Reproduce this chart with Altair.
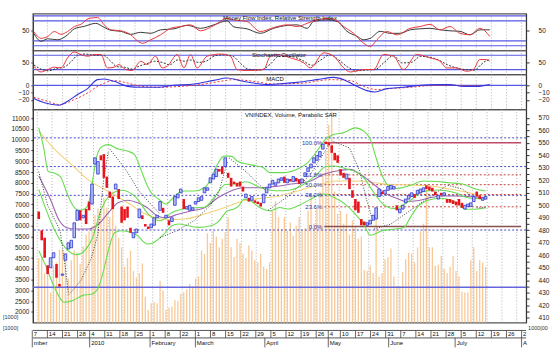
import altair as alt
import pandas as pd

FONT = "Liberation Sans"
W = 495
XS = alt.Scale(domain=[-0.3, 163.0], nice=False, zero=False)

# ---------------- trading calendar ----------------
holidays = ["2010-01-01", "2010-02-15", "2010-02-16", "2010-02-17", "2010-02-18",
            "2010-02-19", "2010-04-30", "2010-05-03"]
days = pd.bdate_range("2009-12-07", "2010-08-02").drop(pd.to_datetime(holidays))
month_names = {12: "mber", 1: "2010", 2: "February", 3: "March", 4: "April",
               5: "May", 6: "June", 7: "July", 8: "A"}

# ---------------- price candles (VNINDEX points) ----------------
opens = [495, 480, 474, 452, 450, 458, 453, 437, 444, 456,
         465, 466, 474, 488, 496, 490, 497, 503, 501, 533,
         525, 540, 541, 523, 511, 507, 513, 513, 499, 497,
         499, 482, 474, 478, 490, 492, 485, 483, 482, 484,
         490, 496, 498, 490, 488, 487, 500, 506, 510, 505,
         497, 496, 496, 501, 503, 504, 510, 512, 518, 521,
         523, 529, 531, 531, 526, 522, 519, 518, 519, 515,
         506, 506, 504, 504, 503, 502, 502, 510, 514, 517,
         516, 518, 520, 523, 518, 521, 519, 522, 521, 518,
         523, 527, 530, 534, 536, 539, 545, 551, 550, 548,
         542, 540, 529, 526, 521, 522, 512, 505, 503, 489,
         487, 484, 485, 488, 489, 507, 511, 509, 512, 513,
         513, 500, 494, 497, 502, 505, 507, 509, 509, 510,
         511, 516, 515, 514, 511, 505, 510, 508, 505, 505,
         504, 503, 505, 502, 497, 499, 499, 503, 511, 508,
         504, 505]
closes = [489, 472, 458, 445, 458, 462, 442, 435, 445, 461,
          470, 472, 486, 496, 488, 492, 485, 496, 517, 538,
          535, 536, 522, 514, 506, 497, 517, 505, 486, 488,
          490, 478, 478, 481, 497, 489, 483, 481, 485, 490,
          492, 503, 494, 492, 484, 490, 507, 509, 513, 497,
          499, 500, 498, 503, 506, 507, 514, 514, 522, 525,
          529, 527, 525, 538, 522, 515, 517, 515, 515, 511,
          509, 503, 507, 502, 501, 499, 509, 514, 517, 520,
          518, 521, 522, 518, 521, 519, 523, 519, 517, 521,
          526, 530, 533, 538, 540, 543, 549, 549, 548, 542,
          536, 534, 524, 522, 525, 513, 506, 496, 494, 484,
          484, 486, 488, 492, 498, 513, 509, 512, 515, 516,
          515, 496, 497, 500, 505, 508, 510, 506, 512, 513,
          514, 513, 512, 511, 508, 508, 508, 510, 502, 502,
          501, 500, 500, 498, 500, 501, 502, 507, 507, 505,
          506, 507]
# ---------------- volume (left-axis units) ----------------
volume = [4500, 4600, 3800, 4100, 2900, 4150, 4300, 4900, 4900, 4750,
          3550, 4400, 4850, 4750, 4250, 5050, 5600, 5750, 6000, 6500,
          6800, 6700, 7300, 6850, 6400, 7600, 6000, 5450, 5000, 4100,
          4500, 4850, 3900, 3600, 3800, 4250, 2700, 2100, 2400, 2450,
          2400, 3450, 3000, 2100, 2200, 2250, 2550, 2500, 2850, 2900,
          3050, 3300, 3200, 3550, 3650, 4850, 4700, 5650, 5200, 5770,
          5500, 5000, 5400, 5700, 6400, 5000, 4550, 5400, 5200, 4700,
          4500, 5100, 4850, 4400, 4300, 4700, 4100, 4000, 4300, 6700,
          7150, 6400, 5850, 6400, 5770, 6150, 5550, 6000, 6400, 5800,
          5900, 6700, 7450, 6100, 6850, 7600, 8450, 9450, 10700, 11300,
          7600, 6550, 6700, 6100, 6550, 5600, 6250, 6000, 5400, 5500,
          3950, 3900, 4150, 3800, 6400, 3650, 3800, 4450, 4550, 4950,
          3650, 3200, 3200, 3850, 4450, 4750, 4700, 4300, 5000, 5750,
          6100, 7800, 5000, 5000, 4150, 4200, 4600, 4000, 3800, 4100,
          4600, 3900, 3650, 2950, 2900, 2900, 4400, 5000, 3900, 4400,
          4300, 4100]

# ---------------- price-panel indicator lines ----------------
upper_i = [0, 1.6, 3.2, 5, 7.3, 9.5, 11.5, 13.5, 15.5, 17, 18, 19.7, 21.3, 23.5, 26.8, 30, 32.3,
           34.5, 36, 38, 40.5, 43, 45, 47.3, 49.4, 52.7, 56, 58.2, 60.4, 62.6, 65, 67, 70.3, 73.6,
           75.8, 78, 83, 87.5, 90.8, 94, 96.9, 99.6, 102.9, 107, 110, 112, 114, 116, 118, 121,
           125.6, 130, 134.4, 138.8, 143.2, 147.6, 151]
upper_v = [562, 547, 527, 526, 523, 510, 500, 496, 497, 503, 517, 540, 547, 548.6, 545, 543.4, 540.8,
           528.8, 519.5, 510, 505, 501, 505, 510, 511.5, 511.5, 514, 521, 532.8, 539.4, 539.4, 535.5,
           533, 531.5, 530.2, 526.2, 526.2, 529, 534, 543.4, 552.7, 556.7, 558, 562, 559, 553, 538,
           524, 516, 513.5, 516, 519.5, 519, 518, 517, 513, 511.5]
mid_i = [0, 5, 9, 13, 18, 21, 24, 28, 33, 37, 41, 45, 50, 56, 60, 63, 67, 70, 75, 80, 85, 90, 94,
         97, 100, 104, 107, 110, 112, 116, 120, 125, 130, 135, 141, 145, 151]
mid_v = [512.7, 482, 466, 460.5, 473, 496, 508, 512, 506, 493, 487.6, 494.3, 497.5, 498.5, 508.5,
         516.7, 517, 518.8, 514, 511.6, 512.3, 517.5, 524.7, 531, 531.5, 529, 527, 521.5, 514.5,
         501.8, 497.5, 503, 511, 512.3, 509.8, 506, 504.9]
low_i = [0, 2.6, 4.8, 7, 8.6, 11.4, 14.7, 18, 20.2, 21.9, 23.5, 25.7, 27.9, 31.2, 33.4, 36.7, 38.9,
         41.1, 42.3, 45, 47.3, 50.6, 54, 58.2, 60.4, 63.8, 66, 67.6, 69.3, 71.5, 74.7, 78, 81.4, 84,
         88, 92, 96, 100, 104, 107, 110, 112, 116, 120.5, 123.4, 125.6, 127.8, 131, 135.5, 141,
         144.3, 147.6, 151]
low_v = [463.6, 450.3, 437, 426.4, 422.4, 423.7, 427.7, 429, 434.4, 447.7, 463.6, 478.3, 479.6,
         478.3, 475.6, 469, 470.3, 474.3, 477, 483.6, 485, 483.6, 482.3, 483.6, 486.3, 495.6, 497,
         499.6, 504.9, 503.6, 498.2, 495.6, 498.2, 497, 500, 505, 509, 506, 500, 493, 484, 476,
         479.6, 481, 482.3, 490.3, 498.2, 503.6, 505.7, 502.2, 496.9, 496.9, 498.2]
purple_i = [0, 3.7, 7, 9.2, 12.5, 16.9, 20.2, 23.5, 26.8, 30.1, 33.4, 36.7, 40, 42.8, 47.3, 51.7, 56,
            60.5, 64.9, 69.2, 73.7, 78, 81.4, 85.3, 91.9, 96.3, 100.7, 105.1, 109.5, 113.9, 118.3,
            121.6, 124, 127.8, 132.2, 136.6, 141, 146.5, 151]
purple_v = [523.5, 506, 487.6, 482.3, 481, 481, 485, 494, 502, 504, 502, 498, 491.6, 490, 493, 495.6,
            498, 506, 511.5, 514, 514, 514.7, 515.5, 517, 519.5, 524.8, 527.5, 528.8, 523.5, 515.5,
            508, 505, 503, 503.6, 506, 507.5, 507.5, 506.8, 505.7]
yellow_i = [0, 5.4, 11, 16.4, 22, 26.3, 30.8, 35.1, 39.5, 44, 49.4, 56, 62.6, 69.2, 75.8, 81.4, 87.5,
            94.1, 100.7, 107.3, 113.9, 119, 125.6, 132.2, 138.8, 145.4, 151]
yellow_v = [559.4, 544.8, 532.8, 521, 513, 507.5, 501, 494, 490, 488.5, 489, 493, 498, 503.6, 505.7,
            507.5, 511.5, 516, 519.5, 519.5, 518, 516.5, 516.3, 515.5, 513, 510, 507]
sar_seg = ["A"] * 6 + ["B"] * 6 + ["C"] * 5 + ["D"] * 6 + ["E"] * 3 + ["F"] * 4 + ["G"] * 5 + ["H"] * 4 + ["I"] * 3 + ["J"] * 2
sar_i = [0, 3, 5.5, 7.2, 9, 10,
         10, 14.3, 17.8, 20, 22, 23.5,
         24, 29, 34, 39, 41,
         41, 47, 52.7, 58, 61, 63.8,
         64.3, 70, 76.9,
         77.5, 85.3, 91.9, 98.5,
         99.6, 105, 108.4, 110.6, 112.8,
         113.3, 119, 128, 137.7,
         138.2, 143.2, 147,
         148, 151]
sar_v = [527, 500, 488, 480, 450, 430,
         428, 440, 458, 477, 522, 543,
         545, 530, 511, 498, 493,
         474, 480, 488, 500, 512, 535,
         538, 527, 511,
         496, 509, 525, 550,
         551, 546, 527.5, 506, 488,
         481, 485, 500, 515.5,
         516, 513, 506,
         498, 498]
dotted_levels = [554, 531, 508, 480.2]
solid_level = [434.4]
fib_levels = [550, 524.4, 516.5, 508.6, 498.8, 483]
fib_labels = ["100.0%", "61.8%", "50.0%", "38.2%", "23.6%", "0.0%"]

# ---------------- oscillators ----------------
mfi_i = [0, 2.4, 4.6, 7.9, 11.2, 13.4, 16.7, 20.5, 23.3, 25.5, 28.8, 32.1, 35.4, 38.7, 42, 46.4,
         50.8, 55.2, 59.6, 64, 66.2, 70.6, 75, 79.4, 83.9, 87.2, 90.5, 92.7, 97, 100.4, 103.7, 107,
         109.2, 111.4, 114.7, 118, 121.3, 124.6, 127.9, 131.2, 134.5, 137.8, 141.1, 144.4, 147.7, 151]
mfi_v = [45, 29, 34, 32, 42, 54, 59, 65, 57, 51, 49, 43, 47, 45, 52, 54, 61, 55, 62, 70, 58, 54, 45,
         55, 61, 62, 55, 69, 72, 69, 49, 39, 32, 35, 49, 45, 45, 52, 54, 55, 52, 50, 49, 42, 52, 52]
rsi_i = [0, 2.4, 4.6, 6.8, 9, 11.2, 13.4, 15.6, 18.3, 21.1, 23.3, 25.5, 28.8, 32.1, 34.3, 36, 38.7,
         42, 45.3, 48.6, 51.9, 55.2, 59.6, 64, 66.2, 70.6, 75, 79.4, 83.9, 87.2, 90.5, 93.8, 97.1,
         99.8, 102.6, 105.9, 109.2, 111.4, 113.6, 116.9, 120.2, 124.6, 127.9, 131.2, 134.5, 137.8,
         141.1, 144.4, 147.7, 151]
rsi_v = [48.6, 35, 38.6, 48.6, 43, 48.6, 58.6, 63, 75, 76.6, 62, 52, 50, 42, 30, 25, 32, 42, 55,
         58.6, 62, 50, 60.6, 75, 72, 68.6, 48.6, 56.6, 62, 58.6, 65, 72, 75, 72, 58.6, 45, 25, 18.6,
         32, 48.6, 42, 55, 58.6, 63, 52, 58.6, 45, 42, 55, 38.6]
stk_i = [0, 2.4, 4.6, 6.8, 9, 11.2, 13.4, 15.6, 17.8, 20, 22.2, 24.4, 26.6, 28.2, 30.4, 32.6, 35.4,
         37.6, 40.3, 42.5, 44.2, 47.5, 49.7, 51.9, 54.1, 57.4, 61.8, 65.1, 67.3, 70.6, 76.1, 78.3,
         80.6, 85, 89.4, 91.6, 96, 99.3, 102.6, 104.8, 109.2, 112.5, 115.8, 119.1, 122.4, 126.8,
         131.2, 134.5, 136.7, 140, 143.3, 145.5, 147.7, 149.9, 151]
stk_v = [34, 10, 20, 30, 27, 69, 94, 83, 76, 83, 83, 27, 30, 41, 20, 16, 55, 41, 76, 27, 34, 83, 27,
         83, 27, 76, 85, 76, 20, 16, 20, 76, 83, 69, 48, 27, 90, 76, 27, 10, 20, 20, 83, 76, 20, 83,
         69, 55, 27, 27, 13, 20, 62, 62, 55]
std_i = [0, 2.4, 5, 7.5, 10, 12.5, 14.5, 17, 20, 23, 25.5, 27.5, 30, 32.5, 35, 37.5, 40, 42.5, 45,
         47.5, 50, 52, 54.5, 57, 60, 63, 66, 68.5, 71, 75, 78.5, 81, 85, 89, 92, 95, 98, 101, 104,
         107, 110, 113, 116, 119, 122, 125, 128, 131, 134, 137, 140, 143, 146, 148, 150, 151]
std_v = [40, 22, 15, 25, 30, 55, 80, 85, 80, 80, 55, 32, 30, 22, 35, 45, 55, 50, 40, 60, 55, 60, 50,
         55, 78, 82, 75, 45, 22, 18, 45, 75, 75, 58, 38, 60, 82, 60, 30, 15, 18, 20, 50, 78, 48, 50,
         75, 72, 60, 40, 27, 20, 18, 40, 58, 60]
macd_i = [0, 3.5, 8.4, 11.2, 14.5, 17.8, 21.1, 23.3, 26.6, 31, 35.4, 40.9, 46.4, 53, 59.6, 64, 68.4,
          72.8, 77.2, 80.6, 87.2, 93.8, 99.3, 102.6, 107, 110.3, 113, 116.9, 122.4, 127.9, 133.4,
          137.8, 142.2, 146.6, 151]
macd_v = [-18.2, -24, -27.4, -21.9, -12.7, -4.5, 7.8, 8.7, 5.5, -1.4, -2.7, -2.7, 0, 1.8, 6.8, 10,
          6.4, 3.2, 1, 1.8, 4.1, 7.8, 11, 7.8, -1.4, -7.3, -9.2, -4.5, -2.7, 0, 1, 1, -1.4, -1.4, 1]
sig_i = [0, 4.6, 8.4, 13.4, 17.8, 22.2, 26.6, 31, 35.4, 42, 48.6, 55.2, 61.8, 66.2, 72.8, 79.4, 89.4,
         98.2, 104.8, 109.2, 113.6, 118, 124.6, 131.2, 137.8, 144.4, 151]
sig_v = [-16.4, -21.9, -26.4, -19.6, -10.5, 1, 6.4, 3.2, -1.4, -2.7, -1.4, 1, 5.5, 7.8, 5.5, 1.8,
         3.2, 7.8, 6.4, -1.4, -5.9, -4.5, -2.7, -0.4, 0, -0.4, 0]

# ---------------- axis tick tables from the calendar ----------------
week_pos, week_txt, month_pos, month_txt = [], [], [], []
prev_w = prev_m = None
for k, d in enumerate(days):
    w = tuple(d.isocalendar())[:2]
    if w != prev_w:
        week_pos.append(k - 0.5)
        week_txt.append(str(d.day))
        prev_w = w
    if d.month != prev_m:
        month_pos.append(k - 0.5)
        month_txt.append(month_names[d.month])
        prev_m = d.month
week_df = pd.DataFrame({"i": week_pos, "t": week_txt})
month_df = pd.DataFrame({"i": month_pos, "t": month_txt})


def X(field="i"):
    return alt.X(f"{field}:Q", scale=XS, axis=None, title=None)


def vgrid():
    return alt.Chart(week_df).mark_rule(color="#a0a0a0", strokeDash=[1, 2], strokeWidth=0.8).encode(x=X())


def label(txt, x, y, size=6, color="#111", align="center"):
    return alt.Chart(pd.DataFrame({"t": [txt]})).mark_text(
        font=FONT, fontSize=size, color=color, align=align, baseline="middle"
    ).encode(x=alt.value(x), y=alt.value(y), text="t:N")


def sline(xs, ys, yfn, color, width=1.0, dash=None):
    df = pd.DataFrame({"i": xs, "v": ys})
    kw = dict(color=color, strokeWidth=width, interpolate="monotone")
    if dash:
        kw["strokeDash"] = dash
    return alt.Chart(df).mark_line(**kw).encode(x=X(), y=yfn("v"))


def left_axis(values, fmt="d"):
    return alt.Axis(orient="left", values=values, format=fmt, minExtent=32, maxExtent=32,
                    labelFontSize=6.5, tickSize=2, labelPadding=2)


def right_axis(values, fmt="d"):
    return alt.Axis(orient="right", values=values, format=fmt, minExtent=30, maxExtent=30,
                    labelFontSize=6.5, tickSize=3, labelPadding=9)


def panel(main, scale, rvalues, h):
    dummy = alt.Chart(pd.DataFrame({"v": rvalues})).mark_point(opacity=0).encode(
        y=alt.Y("v:Q", scale=scale, axis=right_axis(rvalues), title=None))
    return alt.layer(main, dummy).resolve_scale(y="independent").properties(width=W, height=h)


BLUE = "#5858e4"

# ---- panel 1: MFI / RSI ----
S1 = alt.Scale(domain=[10.6, 84.6], nice=False, zero=False)
A1 = left_axis([50])
Y1 = lambda f: alt.Y(f"{f}:Q", scale=S1, axis=A1, title=None)
p1_main = alt.layer(
    vgrid(),
    alt.Chart(pd.DataFrame({"v": [20, 30, 70, 80]})).mark_rule(color=BLUE, strokeWidth=1.2).encode(y=Y1("v")),
    sline(mfi_i, mfi_v, Y1, "#3a3a3a"),
    sline(rsi_i, rsi_v, Y1, "#e8383c"),
    label("Money Flow Index, Relative Strength Index", 248, 4.5),
)
p1 = panel(p1_main, S1, [50], 37)

# ---- panel 2: Stochastic ----
S2 = alt.Scale(domain=[0, 100], nice=False, zero=False)
A2 = left_axis([50])
Y2 = lambda f: alt.Y(f"{f}:Q", scale=S2, axis=A2, title=None)
p2_main = alt.layer(
    vgrid(),
    alt.Chart(pd.DataFrame({"v": [20, 80]})).mark_rule(color=BLUE, strokeWidth=1.2).encode(y=Y2("v")),
    sline(std_i, std_v, Y2, "#333333", dash=[2, 1.5]),
    sline(stk_i, stk_v, Y2, "#e8383c"),
    label("Stochastic Oscillator", 247, 4.5),
)
p2 = panel(p2_main, S2, [50], 24)

# ---- panel 3: MACD ----
S3 = alt.Scale(domain=[-32.9, 15.07], nice=False, zero=False)
A3 = left_axis([0, -10, -20])
Y3 = lambda f: alt.Y(f"{f}:Q", scale=S3, axis=A3, title=None)
p3_main = alt.layer(
    vgrid(),
    alt.Chart(pd.DataFrame({"v": [0]})).mark_rule(color=BLUE, strokeWidth=1.2).encode(y=Y3("v")),
    sline(sig_i, sig_v, Y3, "#e8383c", dash=[2, 2]),
    sline(macd_i, macd_v, Y3, "#3434e0", width=1.1),
    label("MACD", 243, 4.5),
)
p3 = panel(p3_main, S3, [0, -10, -20], 35)

# ---- panel 4: price + volume ----
PS = alt.Scale(domain=[406.2, 576.9], nice=False, zero=False)
AP = right_axis(list(range(410, 571, 5)))
YP = lambda f: alt.Y(f"{f}:Q", scale=PS, axis=AP, title=None)
VS = alt.Scale(domain=[1509, 11417], nice=False, zero=False)

n = len(closes)
cdf = pd.DataFrame({"i": list(range(n)), "o": opens, "c": closes})
cdf["lo"] = cdf[["o", "c"]].min(axis=1)
cdf["hi"] = cdf[["o", "c"]].max(axis=1)
up = cdf["c"] >= cdf["o"]
vdf = pd.DataFrame({"i": list(range(n)), "vol": volume})

vol_layer = alt.Chart(vdf).mark_bar(size=1.3, color="#f7c898").encode(
    x=X(), y=alt.Y("vol:Q", scale=VS, axis=left_axis(list(range(2000, 11001, 500))), title=None),
    y2=alt.datum(1509))

fib_df = pd.DataFrame({"v": fib_levels, "t": fib_labels, "x0": 96.5, "x1": 163.0, "xl": 95.8})
sar_df = pd.DataFrame({"seg": sar_seg, "i": sar_i, "v": sar_v})

price = alt.layer(
    vgrid(),
    alt.Chart(pd.DataFrame({"v": dotted_levels})).mark_rule(color="#4646c8", strokeDash=[2, 2], strokeWidth=1).encode(y=YP("v")),
    alt.Chart(pd.DataFrame({"v": solid_level})).mark_rule(color="#6464dc", strokeWidth=1.5).encode(y=YP("v")),
    alt.Chart(fib_df.iloc[1:5]).mark_rule(color="#c84040", strokeDash=[2, 2], strokeWidth=1).encode(x=X("x0"), x2="x1:Q", y=YP("v")),
    alt.Chart(fib_df.iloc[[0]]).mark_rule(color="#c04a6a", strokeWidth=1.5).encode(x=X("x0"), x2="x1:Q", y=YP("v")),
    alt.Chart(fib_df.iloc[[5]]).mark_rule(color="#8a5050", strokeWidth=1.5).encode(x=X("x0"), x2="x1:Q", y=YP("v")),
    sline(yellow_i, yellow_v, YP, "#f2d27a", width=1.1),
    sline(purple_i, purple_v, YP, "#9a66b0", width=1.1),
    sline(mid_i, mid_v, YP, "#66dd4e", width=1.1),
    sline(upper_i, upper_v, YP, "#66dd4e", width=1.1),
    sline(low_i, low_v, YP, "#66dd4e", width=1.1),
    alt.Chart(sar_df).mark_line(color="#444444", strokeDash=[1, 1.6], strokeWidth=1).encode(x=X(), y=YP("v"), detail="seg:N"),
    alt.Chart(cdf[~up]).mark_bar(size=2.6, color="#e8141c").encode(x=X(), y=YP("lo"), y2="hi:Q"),
    alt.Chart(cdf[up]).mark_bar(size=2.6, fill="#b8c0f8", stroke="#2a34d0", strokeWidth=0.8).encode(x=X(), y=YP("lo"), y2="hi:Q"),
    alt.Chart(fib_df).mark_text(font=FONT, fontSize=6, color="#3030a0", align="right", baseline="middle").encode(x=X("xl"), y=YP("v"), text="t:N"),
    label("VNINDEX, Volume, Parabolic SAR", 259, 5.5),
    label("[1000]", -30, 209, size=5.5, color="#333", align="left"),
)
p4 = alt.layer(vol_layer, price).resolve_scale(y="independent").properties(width=W, height=214)

# ---- panel 5: date axis ----
p5 = alt.layer(
    alt.Chart(pd.DataFrame({"a": [0]})).mark_rule(color="#555", strokeWidth=1).encode(x=alt.value(0), x2=alt.value(W), y=alt.value(8)),
    alt.Chart(pd.DataFrame({"a": [0]})).mark_rule(color="#555", strokeWidth=1).encode(x=alt.value(0), x2=alt.value(W), y=alt.value(15.5)),
    alt.Chart(week_df).mark_rule(color="#444", strokeWidth=0.8).encode(x=X(), y=alt.value(8), y2=alt.value(15.5)),
    alt.Chart(week_df).mark_text(font=FONT, fontSize=6, color="#111", align="left", baseline="middle", dx=1.5).encode(x=X(), y=alt.value(12), text="t:N"),
    alt.Chart(month_df).mark_rule(color="#444", strokeWidth=0.8).encode(x=X(), y=alt.value(15.5), y2=alt.value(25)),
    alt.Chart(month_df).mark_text(font=FONT, fontSize=6, color="#111", align="left", baseline="middle", dx=1.5).encode(x=X(), y=alt.value(21), text="t:N"),
    label("[1000]", -30, 6, size=5.5, color="#333", align="left"),
    label("1000|00", W + 2, 6, size=5.5, color="#333", align="left"),
).properties(width=W, height=31, view=alt.ViewBackground(stroke="transparent"))

chart = alt.vconcat(p1, p2, p3, p4, p5, spacing=0, bounds="flush").properties(
    padding={"left": 0, "right": 0, "top": 12, "bottom": 0}, background="white"
).configure_view(stroke="#555", strokeWidth=1.2).configure_axis(
    labelFont=FONT, labelColor="#222", domainColor="#333", tickColor="#333", grid=False
)

chart.save("out.html", embed_options={"renderer": "svg", "actions": False})
